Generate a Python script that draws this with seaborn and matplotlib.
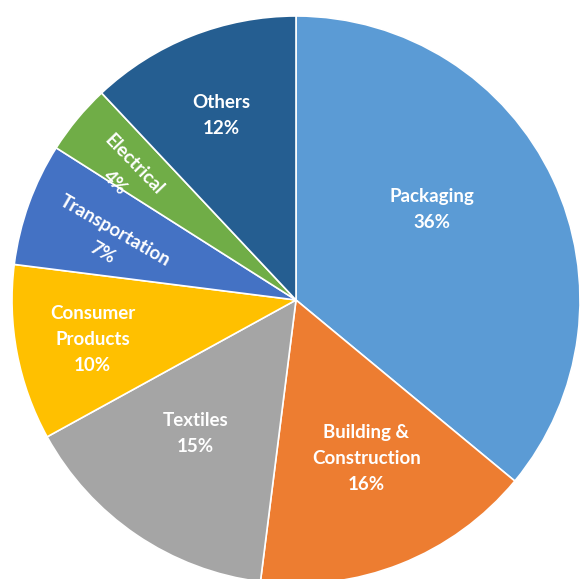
import matplotlib
matplotlib.use("Agg")
import matplotlib.pyplot as plt
import seaborn as sns
import numpy as np

categories = ["Packaging", "Building &\nConstruction", "Textiles", "Consumer\nProducts",
              "Transportation", "Electrical", "Others"]
shares = [36, 16, 15, 10, 7, 4, 12]
colors = ["#5B9BD5", "#ED7D31", "#A5A5A5", "#FFC000", "#4472C4", "#70AD47", "#255E91"]

# label placement: (fraction of radius, angle in degrees, rotation)
label_pos = [(0.575, 33.5, 0), (0.61, -66, 0), (0.59, -127, 0), (0.73, 191, 0),
             (0.69, 162.7, -30), (0.75, 143.5, -46), (0.70, 112, 0)]

sns.set_theme(style="white")
plt.rcParams['font.family'] = ['Lato', 'DejaVu Sans']

fig = plt.figure(figsize=(5.80, 5.79), dpi=100)
ax = fig.add_axes([0, 0, 1, 1])

cx, cy, r = 296, 279, 284
wedges, _ = ax.pie(shares, colors=sns.color_palette(colors), startangle=90, counterclock=False,
                   center=(cx, cy), radius=r, frame=True,
                   wedgeprops=dict(edgecolor="white", linewidth=1.2))
ax.set_xlim(0, 580)
ax.set_ylim(0, 579)
ax.set_aspect("equal")
ax.axis("off")

for cat, val, (fr, ang, rot) in zip(categories, shares, label_pos):
    a = np.deg2rad(ang)
    x = cx + fr * r * np.cos(a)
    y = cy + fr * r * np.sin(a)
    ax.text(x, y, f"{cat}\n{val}%", ha="center", va="center", color="white",
            fontsize=13.5, fontweight="bold", rotation=rot, linespacing=1.65,
            rotation_mode="anchor")

fig.savefig("out.png", dpi=100, facecolor="white")
